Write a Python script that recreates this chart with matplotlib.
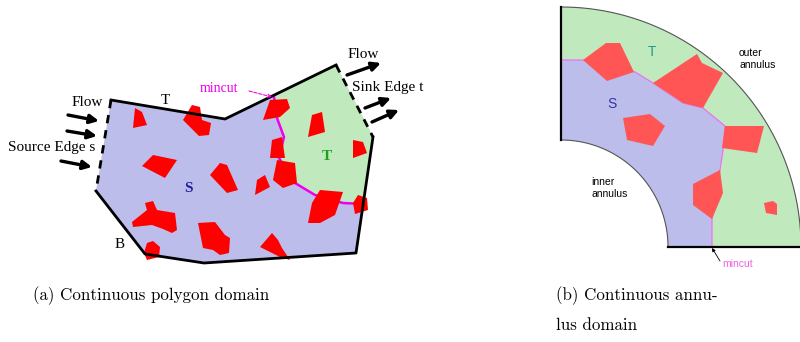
import numpy as np
import matplotlib
matplotlib.use('Agg')
import matplotlib.pyplot as plt
from matplotlib.patches import Polygon, Wedge

# ---- (a) polygon domain, pixel coordinates (y grows downward) ----
domain_a = [(111, 100), (225, 119), (336, 65), (373, 137), (356, 253),
            (204, 263), (145, 254), (96, 191)]
mincut_a = [(274, 97), (277, 118), (284, 137), (279, 158), (295, 183),
            (315, 195), (343, 203), (363, 204)]
sink_side_a = [(363, 204), (373, 137), (336, 65)]

obstacles_a = [
    [(135, 108), (142, 112), (147, 125), (133, 128)],
    [(192, 105), (200, 107), (202, 120), (211, 123), (209, 135), (199, 136), (183, 120)],
    [(270, 100), (287, 99), (290, 108), (280, 117), (263, 120)],
    [(312, 115), (322, 112), (325, 132), (308, 137)],
    [(353, 140), (363, 142), (367, 153), (353, 158)],
    [(272, 140), (282, 137), (285, 158), (270, 158)],
    [(142, 166), (153, 155), (177, 160), (165, 178)],
    [(220, 163), (227, 165), (238, 190), (227, 193), (210, 175)],
    [(257, 180), (265, 175), (270, 187), (255, 195)],
    [(277, 160), (295, 163), (297, 183), (283, 188), (273, 180)],
    [(320, 190), (343, 192), (335, 215), (320, 223), (308, 223), (312, 203)],
    [(358, 195), (367, 198), (368, 210), (355, 214), (353, 203)],
    [(132, 222), (147, 210), (145, 203), (153, 201), (157, 210), (175, 213),
     (177, 230), (172, 233), (163, 229), (152, 225), (133, 227)],
    [(198, 223), (215, 222), (225, 235), (230, 238), (229, 253), (220, 255),
     (213, 250), (203, 248)],
    [(147, 243), (153, 241), (160, 247), (159, 257), (147, 260), (144, 253)],
    [(272, 233), (278, 240), (282, 248), (290, 260), (280, 257), (260, 247)],
]

source_arrows = [((68, 115), (99, 121)), ((67, 131), (97, 136)), ((61, 161), (92, 167))]
sink_arrows = [((347, 75), (381, 63)), ((365, 108), (391, 98)), ((372, 122), (399, 110))]

# ---- (b) quarter annulus ----
center_b = (561, 247)
r_inner, r_outer = 107, 240
mincut_b = [(561, 60), (582, 60), (635, 72), (653, 83), (683, 103), (703, 108),
            (725, 126), (723, 150), (720, 170), (712, 219), (712, 247)]
obstacles_b = [
    [(583, 60), (606, 43), (620, 43), (634, 72), (607, 81)],
    [(653, 83), (697, 54), (702, 63), (723, 73), (703, 108), (683, 103)],
    [(623, 118), (650, 114), (665, 126), (653, 146), (627, 140)],
    [(725, 126), (764, 126), (757, 153), (722, 148)],
    [(693, 184), (720, 170), (723, 193), (712, 219), (693, 205)],
    [(764, 203), (773, 201), (777, 204), (777, 215), (766, 213)],
]

purple = '#bcbdeb'
green = '#c0e9be'

fig = plt.figure(figsize=(8, 3.42), dpi=100)
ax = fig.add_axes([0, 0, 1, 1])
ax.set_xlim(0, 800)
ax.set_ylim(342, 0)
ax.axis('off')

# (a) fills: whole domain in purple, sink side of the cut in green
ax.add_patch(Polygon(domain_a, closed=True, fc=purple, ec='none', zorder=1))
ax.add_patch(Polygon(mincut_a + sink_side_a, closed=True, fc=green, ec='none', zorder=1))

# cut line sits under the obstacles
ax.plot(*zip(*mincut_a), color='#ee00ee', lw=1.8, solid_capstyle='round', zorder=1.5)

for obs in obstacles_a:
    ax.add_patch(Polygon(obs, closed=True, fc='#ff0000', ec='none', zorder=2))

# solid boundary
solid = [(96, 191), (145, 254), (204, 263), (356, 253), (373, 137)]
ax.plot(*zip(*solid), color='black', lw=2, zorder=3)
ax.plot(*zip(*[(111, 100), (225, 119), (336, 65)]), color='black', lw=2, zorder=3)
# source and sink edges dashed
ax.plot(*zip(*[(111, 100), (96, 191)]), color='black', lw=2, dashes=(3, 2.5), zorder=3)
ax.plot(*zip(*[(336, 65), (373, 137)]), color='black', lw=2, dashes=(3, 2.5), zorder=3)

for (x0, y0), (x1, y1) in source_arrows + sink_arrows:
    ax.annotate('', xy=(x1, y1), xytext=(x0, y0),
                arrowprops=dict(arrowstyle='-|>', color='black', lw=2.4,
                                mutation_scale=13, shrinkA=0, shrinkB=0))

serif = 'Liberation Serif'
ax.text(72, 103, 'Flow', fontsize=11, family=serif, va='center', ha='left')
ax.text(8, 147, 'Source Edge s', fontsize=11, family=serif, va='center', ha='left')
ax.text(165, 100, 'T', fontsize=11, family=serif, va='center', ha='center')
ax.text(120, 245, 'B', fontsize=11, family=serif, va='center', ha='center')
ax.text(348, 55, 'Flow', fontsize=11, family=serif, va='center', ha='left')
ax.text(352, 87, 'Sink Edge t', fontsize=11, family=serif, va='center', ha='left')
ax.text(200, 89, 'mincut', fontsize=10, family=serif, color='#ee00ee',
        va='center', ha='left')
ax.annotate('', xy=(272, 97), xytext=(249, 91),
            arrowprops=dict(arrowstyle='->', color='#ee00ee', lw=0.8,
                            linestyle=(0, (3, 1.5)), mutation_scale=6,
                            shrinkA=0, shrinkB=0))
ax.text(188, 188, 'S', fontsize=11, family=serif, weight='bold', color='#2020a0',
        va='center', ha='center')
ax.text(327, 156, 'T', fontsize=11, family=serif, weight='bold', color='#20a020',
        va='center', ha='center')

# (b) annulus: purple ring, green part beyond the cut
cx, cy = center_b
ax.add_patch(Wedge((cx, cy), r_outer, 270, 360, width=r_outer - r_inner,
                   fc=purple, ec='none', zorder=1))
theta = np.linspace(0, np.pi / 2, 80)
outer_arc = [(cx + r_outer * np.cos(t), cy - r_outer * np.sin(t)) for t in theta]
ax.add_patch(Polygon(mincut_b + outer_arc, closed=True, fc=green, ec='none', zorder=1))
ax.plot(*zip(*mincut_b), color='#f070f0', lw=0.9, zorder=1.5)
for obs in obstacles_b:
    ax.add_patch(Polygon(obs, closed=True, fc='#ff5555', ec='none', zorder=2))

ax.plot(*zip(*outer_arc), color='#555555', lw=0.8, zorder=3)
ax.plot(cx + r_inner * np.cos(theta), cy - r_inner * np.sin(theta),
        color='#555555', lw=0.8, zorder=3)
ax.plot([cx, cx], [cy - r_outer, cy - r_inner], color='black', lw=1.6, zorder=3)
ax.plot([cx + r_inner, 800], [cy, cy], color='black', lw=1.6, zorder=3)

sans = 'Liberation Sans'
ax.text(652, 52, 'T', fontsize=10, family=sans, color='#209a8a', va='center', ha='center')
ax.text(612, 104, 'S', fontsize=10, family=sans, color='#3535a5', va='center', ha='center')
ax.text(739, 59, 'outer\nannulus', fontsize=7.5, family=sans, va='center', ha='left',
        linespacing=1.3)
ax.text(591, 188, 'inner\nannulus', fontsize=7.5, family=sans, va='center', ha='left',
        linespacing=1.3)
ax.text(722, 264, 'mincut', fontsize=7.5, family=sans, color='#f060e0',
        va='center', ha='left')
ax.annotate('', xy=(712, 248), xytext=(720, 261),
            arrowprops=dict(arrowstyle='-|>', color='black', lw=0.6,
                            mutation_scale=5, shrinkA=0, shrinkB=0))

# captions
cap = dict(fontsize=12.2, family='cmr10', va='center', ha='left')
ax.text(33, 296, '(a) Continuous polygon domain', **cap)
ax.text(556, 296, '(b) Continuous annu-', **cap)
ax.text(556, 325, 'lus domain', **cap)

fig.savefig('out.png', dpi=100)
